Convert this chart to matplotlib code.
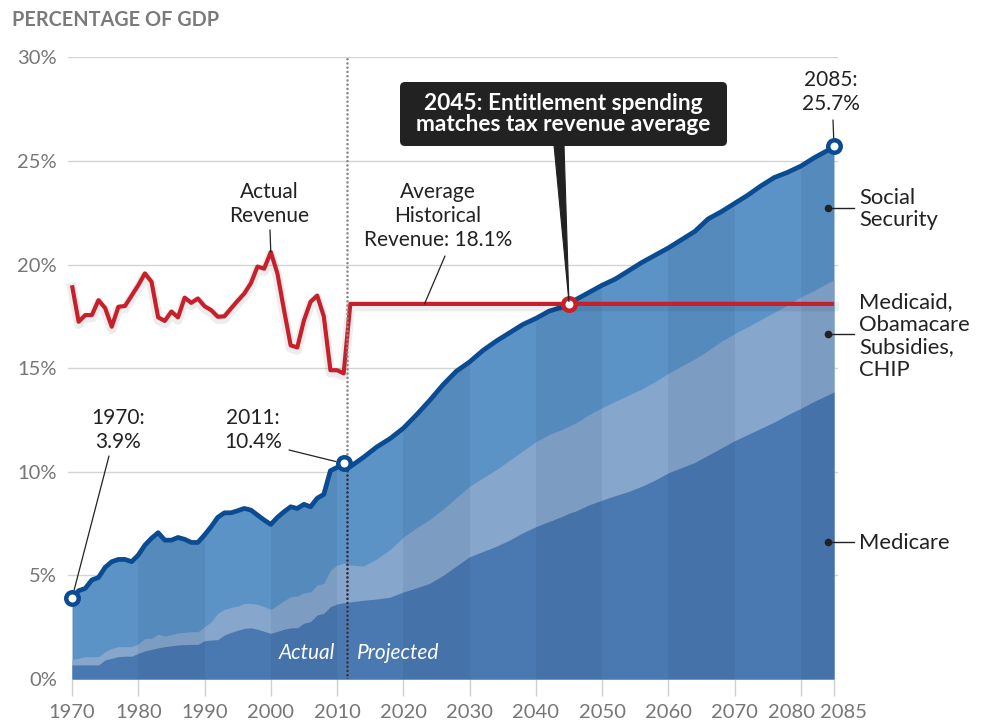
import numpy as np
import matplotlib
matplotlib.use("Agg")
import matplotlib.pyplot as plt
from matplotlib.patches import FancyBboxPatch, Polygon, PathPatch
from matplotlib.lines import Line2D
from matplotlib.transforms import IdentityTransform

plt.rcParams['font.family'] = ['Lato', 'DejaVu Sans']

# ---------------- data (percent of GDP) ----------------
years_actual = list(range(1970, 2012))
years_proj = [2012, 2014, 2016, 2018, 2020, 2022, 2024, 2026, 2028, 2030, 2032, 2034,
              2036, 2038, 2040, 2042, 2044, 2045, 2046, 2048, 2050, 2052, 2054, 2056,
              2058, 2060, 2062, 2064, 2066, 2068, 2070, 2072, 2074, 2076, 2078, 2080,
              2082, 2084, 2085]

# total entitlement spending (top of stack)
total_actual = [3.9, 4.26, 4.37, 4.78, 4.9, 5.39, 5.66, 5.77, 5.77, 5.66,
                5.98, 6.46, 6.79, 7.06, 6.7, 6.7, 6.83, 6.74, 6.59, 6.59,
                6.95, 7.35, 7.8, 8.02, 8.02, 8.12, 8.23, 8.15, 7.91, 7.67,
                7.46, 7.8, 8.07, 8.31, 8.23, 8.43, 8.31, 8.72, 8.91, 10.05,
                10.21, 10.4]
total_proj = [10.25, 10.7, 11.2, 11.6, 12.1, 12.75, 13.45, 14.2, 14.85, 15.3, 15.85, 16.3,
              16.7, 17.1, 17.4, 17.75, 17.95, 18.1, 18.3, 18.65, 19.0, 19.3, 19.7, 20.1,
              20.45, 20.8, 21.2, 21.6, 22.2, 22.55, 22.95, 23.35, 23.8, 24.2, 24.45, 24.75,
              25.15, 25.5, 25.7]

# Medicare + Medicaid/Obamacare/CHIP (top of the middle layer)
health_actual = [0.95, 1.0, 1.08, 1.08, 1.08, 1.32, 1.48, 1.56, 1.56, 1.56,
                 1.69, 1.96, 1.96, 2.17, 2.07, 2.15, 2.23, 2.25, 2.28, 2.28,
                 2.52, 2.76, 3.17, 3.36, 3.45, 3.52, 3.65, 3.65, 3.6, 3.49,
                 3.36, 3.57, 3.78, 3.97, 4.0, 4.16, 4.2, 4.53, 4.62, 5.26,
                 5.5, 5.58]
health_proj = [5.5, 5.45, 5.8, 6.25, 6.85, 7.3, 7.7, 8.2, 8.75, 9.3, 9.7, 10.1,
               10.55, 11.0, 11.45, 11.8, 12.05, 12.2, 12.35, 12.75, 13.1, 13.4, 13.7, 14.0,
               14.35, 14.75, 15.1, 15.45, 15.85, 16.3, 16.67, 17.0, 17.35, 17.7, 18.05, 18.44,
               18.75, 19.1, 19.25]

# Medicare (bottom layer)
medicare_actual = [0.68, 0.68, 0.68, 0.68, 0.68, 0.92, 1.0, 1.08, 1.1, 1.1,
                   1.24, 1.35, 1.43, 1.5, 1.56, 1.6, 1.64, 1.66, 1.67, 1.67,
                   1.85, 1.88, 1.9, 2.12, 2.25, 2.35, 2.44, 2.47, 2.4, 2.3,
                   2.2, 2.3, 2.4, 2.47, 2.47, 2.69, 2.77, 3.09, 3.17, 3.49,
                   3.62, 3.68]
medicare_proj = [3.72, 3.8, 3.86, 3.95, 4.2, 4.4, 4.62, 5.0, 5.45, 5.9, 6.15, 6.4,
                 6.7, 7.05, 7.35, 7.6, 7.85, 8.0, 8.1, 8.4, 8.63, 8.85, 9.05, 9.3,
                 9.6, 9.95, 10.2, 10.45, 10.8, 11.15, 11.5, 11.8, 12.1, 12.4, 12.75, 13.06,
                 13.4, 13.7, 13.85]

# tax revenue
revenue_years = list(range(1970, 2012)) + [2012, 2085]
revenue = [19.0, 17.24, 17.56, 17.56, 18.28, 17.9, 17.0, 17.96, 18.0, 18.5,
           19.0, 19.57, 19.17, 17.45, 17.28, 17.73, 17.45, 18.4, 18.15, 18.36,
           17.99, 17.8, 17.48, 17.5, 17.88, 18.25, 18.6, 19.1, 19.9, 19.8,
           20.6, 19.57, 17.8, 16.1, 16.0, 17.3, 18.2, 18.5, 17.5, 14.9,
           14.9, 14.75, 18.1, 18.1]
avg_revenue = 18.1
cross_year = 2045
split_year = 2011.5

xtick_years = [1970, 1980, 1990, 2000, 2010, 2020, 2030, 2040, 2050, 2060, 2070, 2080, 2085]
ytick_vals = [0, 5, 10, 15, 20, 25, 30]
ytick_labels = ['0%', '5%', '10%', '15%', '20%', '25%', '30%']

years = np.array(years_actual + years_proj, dtype=float)
total = np.array(total_actual + total_proj)
health = np.array(health_actual + health_proj)
medicare = np.array(medicare_actual + medicare_proj)

# ---------------- figure ----------------
W, H = 988, 721
fig = plt.figure(figsize=(W / 100, H / 100), dpi=100)
ax_left, ax_right, ax_top, ax_bot = 68, 838, 57.3, 679
ax = fig.add_axes([ax_left / W, 1 - ax_bot / H, (ax_right - ax_left) / W, (ax_bot - ax_top) / H])
pad_years = 4 / 6.626
ax.set_xlim(1970 - pad_years, 2085 + pad_years)
ax.set_ylim(0, 30)
for s in ax.spines.values():
    s.set_visible(False)


def fp(x, y):
    """pixel (from top-left) -> figure fraction"""
    return (x / W, 1 - y / H)


tick_grey = '#767676'
# gridlines / y ticks
ax.set_yticks(ytick_vals)
ax.set_yticklabels(ytick_labels)
ax.yaxis.grid(True, color='#d4d4d4', lw=1.0, zorder=0)
ax.set_axisbelow(True)
ax.tick_params(axis='y', length=0, pad=8, labelsize=14.5, labelcolor=tick_grey)

# x ticks (labels placed manually so 2080/2085 don't collide)
ax.set_xticks(xtick_years)
ax.set_xticklabels([])
ax.tick_params(axis='x', length=12.5, width=1, color='#cfcfcf')
label_shift = {2080: -9.5, 2085: 9.5}
for yv in xtick_years:
    ax.annotate(str(yv), xy=(yv, 0), xycoords='data',
                xytext=(label_shift.get(yv, 0), -39), textcoords='offset pixels',
                ha='center', va='baseline', fontsize=14.5, color=tick_grey,
                annotation_clip=False)

# stacked areas (each layer drawn from zero to avoid seams)
c_ss, c_health, c_medicare = '#5b93c6', '#86a6cc', '#4a79b1'
full = ax.fill_between(years, 0, total, color=c_ss, lw=0, zorder=2)
ax.fill_between(years, 0, health, color=c_health, lw=0, zorder=2.1)
ax.fill_between(years, 0, medicare, color=c_medicare, lw=0, zorder=2.2)

clip_patch = PathPatch(full.get_paths()[0], transform=ax.transData,
                       facecolor='none', edgecolor='none')
ax.add_patch(clip_patch)
for d0 in range(1980, 2090, 20):
    band = ax.axvspan(d0, min(d0 + 10, 2085), color='#0a1a40', alpha=0.07, lw=0, zorder=3)
    band.set_clip_path(clip_patch)

# total spending line
navy = '#0b4b91'
ax.plot(years, total, color=navy, lw=3.4, zorder=5, solid_joinstyle='round',
        solid_capstyle='round', clip_on=False)

# revenue line with soft shadow
red = '#c8202a'
ax.plot(revenue_years, np.array(revenue) - 0.12, color='black', alpha=0.07, lw=7,
        zorder=5.5, solid_joinstyle='round', clip_on=False)
ax.plot(revenue_years, revenue, color=red, lw=3.0, zorder=6, solid_joinstyle='round',
        solid_capstyle='butt', clip_on=False)

# dotted actual/projected divider
dot_style = dict(lw=1.9, ls=(0, (0.01, 1.6)), dash_capstyle='round', zorder=7)
ax.plot([split_year, split_year], [0, 30], color='#8a8a8a', **dot_style)
dl = ax.plot([split_year, split_year], [0, 30], color='#243049', **dot_style)[0]
dl.set_clip_path(clip_patch)

# markers
i2011 = years_actual.index(2011)
for xi, yi, ec in [(years[0], total[0], navy), (years[i2011], total[i2011], navy),
                   (years[-1], total[-1], navy), (cross_year, avg_revenue, red)]:
    ax.plot(xi, yi, 'o', ms=9, mfc='white', mec=ec, mew=3.2, zorder=9, clip_on=False)

# ---------------- text ----------------
txt = '#222222'
fig.text(*fp(12, 20.5), 'PERCENTAGE OF GDP', fontsize=14.3, fontweight='bold',
         color='#7a7a7a', ha='left', va='center')

ann = dict(fontsize=15, color=txt, ha='center', va='center', linespacing=1.25)
fig.text(*fp(118, 430), f'{years_actual[0]}:\n{total[0]:.1f}%', **ann)
fig.text(*fp(253, 430), f'{years_actual[i2011]}:\n{total[i2011]:.1f}%', **ann)
fig.text(*fp(831, 92), f'{years_proj[-1]}:\n{total[-1]:.1f}%', **ann)
fig.text(*fp(269, 204), 'Actual\nRevenue', **ann)
fig.text(*fp(438, 216), f'Average\nHistorical\nRevenue: {avg_revenue}%', **ann)


def leader(p0, xy_data, shrink=0):
    ax.annotate('', xy=xy_data, xycoords='data', xytext=fp(*p0), textcoords='figure fraction',
                arrowprops=dict(arrowstyle='-', color=txt, lw=0.9, shrinkA=0, shrinkB=shrink),
                zorder=8, annotation_clip=False)


leader((109, 456), (years[0], total[0]), shrink=6)
leader((289, 450), (years[i2011], total[i2011]), shrink=6)
leader((833, 120), (years[-1], total[-1]), shrink=6)
leader((270, 230), (2000, revenue[30]), shrink=0)
leader((445, 256), (2023.2, avg_revenue), shrink=0)

# black callout
box = FancyBboxPatch((400, H - 146), 327, 64, boxstyle='round,pad=0,rounding_size=5',
                     facecolor='#222222', edgecolor='none', transform=IdentityTransform(),
                     zorder=10)
fig.add_artist(box)
apex = ax.transData.transform((cross_year, avg_revenue))
tri = Polygon([(554, H - 145), (564, H - 145), (apex[0], apex[1] + 2)], closed=True,
              facecolor='#222222', edgecolor='#222222', lw=0.8,
              transform=IdentityTransform(), zorder=10)
fig.add_artist(tri)
fig.text(*fp(563.5, 114), f'{cross_year}: Entitlement spending\nmatches tax revenue average',
         fontsize=16.3, fontweight='bold', color='white', ha='center', va='center',
         linespacing=1.0, zorder=11)

# right-hand series labels
for (ydot, label, ytxt) in [(207.7, 'Social\nSecurity', 209),
                            (334.3, 'Medicaid,\nObamacare\nSubsidies,\nCHIP', 336),
                            (542.3, 'Medicare', 543)]:
    fig.add_artist(Line2D([827.5 / W, 854 / W], [1 - ydot / H, 1 - ydot / H],
                          transform=fig.transFigure, color=txt, lw=1.0))
    fig.add_artist(Line2D([827.5 / W], [1 - ydot / H], marker='o', ms=4.5,
                          color=txt, transform=fig.transFigure, lw=0))
    fig.text(*fp(859, ytxt), label, fontsize=15.8, color=txt, ha='left', va='center',
             linespacing=1.18)

# actual / projected labels
fig.text(*fp(335, 653), 'Actual', fontsize=15, style='italic', color='white',
         ha='right', va='center')
fig.text(*fp(357, 653), 'Projected', fontsize=15, style='italic', color='white',
         ha='left', va='center')

fig.savefig('out.png', dpi=100)
